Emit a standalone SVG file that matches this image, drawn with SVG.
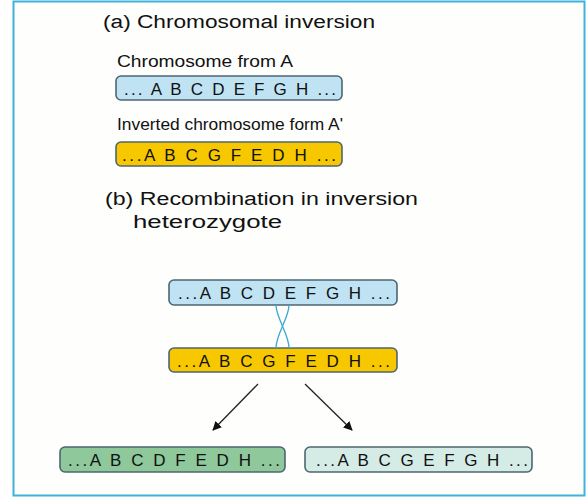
<svg xmlns="http://www.w3.org/2000/svg" width="587" height="497" viewBox="0 0 587 497">
<defs>
<style>
.t{font-family:"Liberation Sans",Arial,sans-serif;fill:#111;}
.h{font-size:18px;}
.s{font-size:16px;}
.b{font-size:17px;}
.bar{stroke:#4d6670;stroke-width:1.6;}
.blue{fill:#bfe3f3;}
.yel{fill:#f7c800;}
.grn{fill:#8ec89b;}
.pale{fill:#d5ebe5;}
.x{stroke:#3aa8d0;stroke-width:1.3;fill:none;}
.ar{stroke:#222;stroke-width:1.3;fill:none;marker-end:url(#ah);}
</style>
<marker id="ah" viewBox="0 0 10 10" refX="9" refY="5" markerWidth="9" markerHeight="9" orient="auto" markerUnits="userSpaceOnUse">
<path d="M0,0 L10,5 L0,10 z" fill="#111"/>
</marker>
</defs>
<rect x="0" y="0" width="587" height="497" fill="#fff"/>
<rect x="13.5" y="1.5" width="571" height="494" fill="#fefefc" stroke="#3fb2da" stroke-width="2"/>

<g id="titleA"><text class="t h" x="103" y="28" textLength="272" lengthAdjust="spacingAndGlyphs">(a)  Chromosomal inversion</text></g>
<g id="labelA"><text class="t s" x="117" y="67" textLength="176" lengthAdjust="spacingAndGlyphs">Chromosome from A</text></g>
<g id="chrA">
<rect class="bar blue" x="116" y="76" width="226" height="24" rx="5"/>
<text class="t b" x="124" y="95" textLength="212" lengthAdjust="spacing">... A B C D E F G H ...</text>
</g>
<g id="labelA2"><text class="t s" x="117" y="130" textLength="226" lengthAdjust="spacingAndGlyphs">Inverted chromosome form A'</text></g>
<g id="chrA2">
<rect class="bar yel" x="116" y="142" width="226" height="24" rx="5"/>
<text class="t b" x="122" y="161" textLength="214" lengthAdjust="spacing">...A B C G F E D H ...</text>
</g>
<g id="titleB">
<text class="t h" x="105" y="205" textLength="313" lengthAdjust="spacingAndGlyphs">(b)  Recombination in inversion</text>
<text class="t h" x="133" y="228" textLength="149" lengthAdjust="spacingAndGlyphs">heterozygote</text>
</g>
<g id="chrB1">
<rect class="bar blue" x="169" y="280" width="228" height="25" rx="5"/>
<text class="t b" x="178" y="299" textLength="212" lengthAdjust="spacing">...A B C D E F G H ...</text>
</g>
<g id="chrB2">
<rect class="bar yel" x="169" y="348" width="228" height="24" rx="5"/>
<text class="t b" x="177" y="367" textLength="213" lengthAdjust="spacing">...A B C G F E D H ...</text>
</g>
<g id="prod1">
<rect class="bar grn" x="60" y="447" width="225" height="25" rx="5"/>
<text class="t b" x="68" y="466" textLength="212" lengthAdjust="spacing">...A B C D F E D H ...</text>
</g>
<g id="prod2">
<rect class="bar pale" x="305" y="447" width="227" height="25" rx="5"/>
<text class="t b" x="316" y="466" textLength="212" lengthAdjust="spacing">...A B C G E F G H ...</text>
</g>
<g id="connectors">
<path class="x" d="M276,305 C276,318 289,334 289,348"/>
<path class="x" d="M289,305 C289,318 276,334 276,348"/>
<line class="ar" x1="258" y1="384" x2="213" y2="430"/>
<line class="ar" x1="305" y1="384" x2="352" y2="430"/>
</g>
</svg>
